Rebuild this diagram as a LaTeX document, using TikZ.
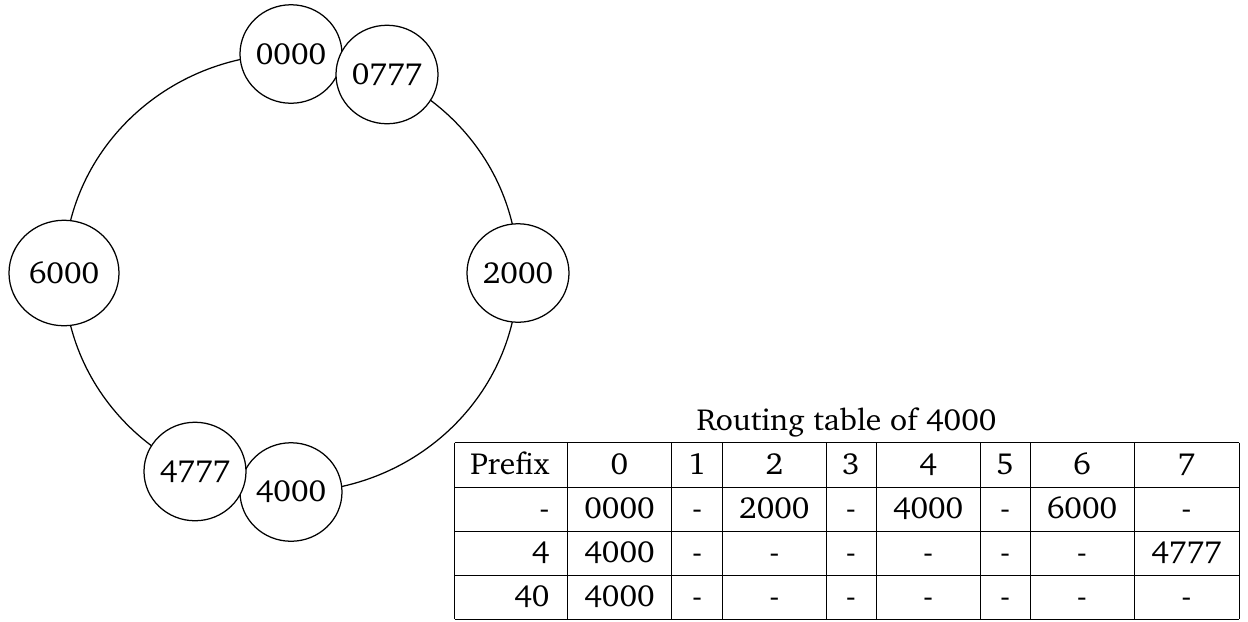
\documentclass[tikz,border=0pt]{standalone}
\usepackage[T1]{fontenc}
\usepackage{charter}
\usetikzlibrary{shapes.geometric}

% node text is set slightly wide
\newsavebox{\wideTextBox}
\tikzset{
  txt/.style={font=\fontsize{12.2}{14.6}\selectfont, inner sep=0pt,
    execute at begin node={\begin{lrbox}{\wideTextBox}},
    execute at end node={\end{lrbox}\scalebox{1.036}[1]{\usebox{\wideTextBox}}}},
  peer/.style={txt, ellipse, draw, fill=white, line width=0.5pt,
    minimum width=40.8pt, minimum height=39.4pt},
  bigpeer/.style={peer, minimum width=44pt, minimum height=42.2pt},
  ring/.style={line width=0.5pt},
  rule/.style={line width=0.4pt},
  cell/.style={txt, anchor=base},
  keycell/.style={txt, anchor=base east},
}

\begin{document}
\begin{tikzpicture}[x=0.4pt, y=-0.4pt]
  \useasboundingbox (0,0) rectangle (1248,621);

  % identifier ring
  \coordinate (ringc) at (291,273);
  \draw[ring] (ringc) ellipse [x radius=90.8pt, y radius=87.6pt];

  % peers on the ring
  \node[peer]    (n0000) at (291,54)    {0000};
  \node[peer]    (n0777) at (387,74.5)  {0777};
  \node[peer]    (n2000) at (518,273)   {2000};
  \node[peer]    (n4000) at (291,492)   {4000};
  \node[peer]    (n4777) at (195,471.5) {4777};
  \node[bigpeer] (n6000) at (64,273)    {6000};

  % routing table of peer 4000
  \node[cell] (title) at (846.5,430.7) {Routing table of 4000};

  \foreach \yy in {442.5,487.3,531,575,619}
    \draw[rule] (454.7,\yy) -- (1239,\yy);
  \foreach \xx in {454.7,567.3,671.7,722.7,826,876,980.3,1030,1134,1239}
    \draw[rule] (\xx,442.5) -- (\xx,619);

  % prefix column
  \foreach \r/\yy/\t in {0/474/Prefix, 1/518/-, 2/562/4, 3/606/40}
    \node[keycell] (k\r) at (550,\yy) {\t};

  % header row: next digit
  \foreach \c/\xx in {0/619.5,1/697.2,2/774.35,3/851,4/928.15,5/1005.15,6/1082,7/1186.5}
    \node[cell] (h\c) at (\xx,474) {\c};

  % entries
  \foreach \c/\xx/\t in {0/619.5/0000,1/697.2/-,2/774.35/2000,3/851/-,4/928.15/4000,5/1005.15/-,6/1082/6000,7/1186.5/-}
    \node[cell] (a\c) at (\xx,518) {\t};
  \foreach \c/\xx/\t in {0/619.5/4000,1/697.2/-,2/774.35/-,3/851/-,4/928.15/-,5/1005.15/-,6/1082/-,7/1186.5/4777}
    \node[cell] (b\c) at (\xx,562) {\t};
  \foreach \c/\xx/\t in {0/619.5/4000,1/697.2/-,2/774.35/-,3/851/-,4/928.15/-,5/1005.15/-,6/1082/-,7/1186.5/-}
    \node[cell] (d\c) at (\xx,606) {\t};
\end{tikzpicture}
\end{document}
